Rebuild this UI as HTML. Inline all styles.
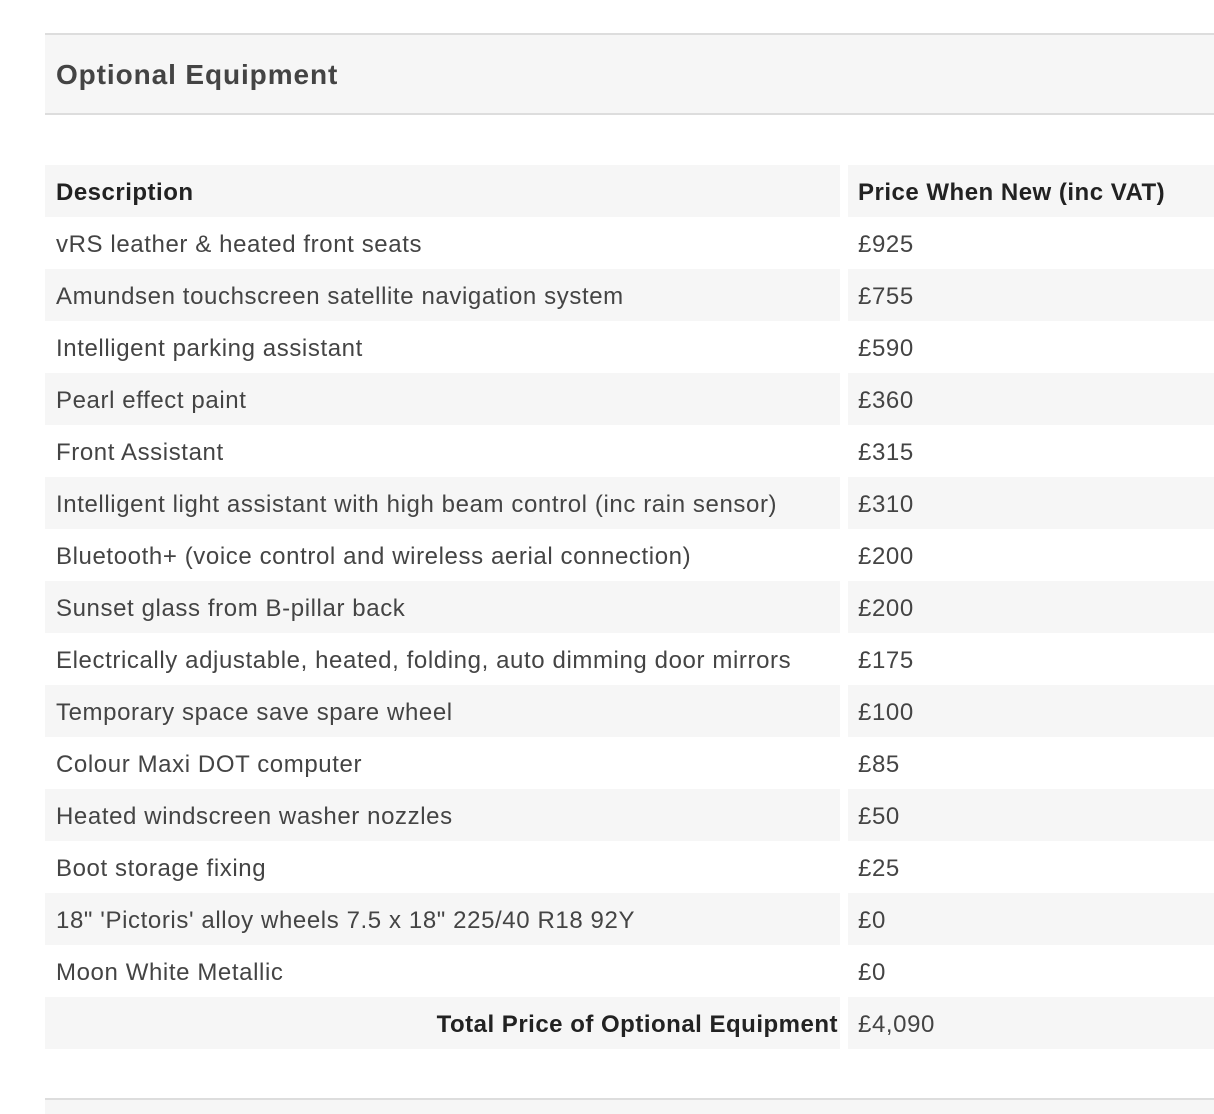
<!DOCTYPE html>
<html><head><meta charset="utf-8"><style>
body{margin:0;width:1214px;height:1112px;background:#fff;font-family:"Liberation Sans",sans-serif;position:relative;overflow:hidden}
.hd{position:absolute;left:45px;top:33px;width:1169px;height:78px;background:#f6f6f6;border-top:2px solid #ddd;border-bottom:2px solid #ddd}
.hd span{position:absolute;left:11px;top:24px;font-size:28px;letter-spacing:0.9px;font-weight:bold;color:#444}
.r{position:absolute;left:45px;width:1169px;height:52px}
.c1,.c2{position:absolute;top:0;height:52px;line-height:56px;font-size:24px;letter-spacing:0.6px;color:#444;white-space:nowrap}
.c1{left:0;width:795px;padding-left:11px;box-sizing:border-box}
.c2{left:803px;width:366px;padding-left:10px;box-sizing:border-box}
.g .c1,.g .c2{background:#f6f6f6}
.b{font-weight:bold;color:#222 !important;letter-spacing:0.5px}
.ft{position:absolute;left:45px;top:1098px;width:1169px;height:14px;background:#f6f6f6;border-top:2px solid #ddd}
</style></head><body>
<div class="hd"><span>Optional Equipment</span></div>
<div class="r g" style="top:165px"><div class="c1 b">Description</div><div class="c2 b">Price When New (inc VAT)</div></div>
<div class="r" style="top:217px"><div class="c1">vRS leather &amp; heated front seats</div><div class="c2">£925</div></div>
<div class="r g" style="top:269px"><div class="c1">Amundsen touchscreen satellite navigation system</div><div class="c2">£755</div></div>
<div class="r" style="top:321px"><div class="c1">Intelligent parking assistant</div><div class="c2">£590</div></div>
<div class="r g" style="top:373px"><div class="c1">Pearl effect paint</div><div class="c2">£360</div></div>
<div class="r" style="top:425px"><div class="c1">Front Assistant</div><div class="c2">£315</div></div>
<div class="r g" style="top:477px"><div class="c1">Intelligent light assistant with high beam control (inc rain sensor)</div><div class="c2">£310</div></div>
<div class="r" style="top:529px"><div class="c1">Bluetooth+ (voice control and wireless aerial connection)</div><div class="c2">£200</div></div>
<div class="r g" style="top:581px"><div class="c1">Sunset glass from B-pillar back</div><div class="c2">£200</div></div>
<div class="r" style="top:633px"><div class="c1">Electrically adjustable, heated, folding, auto dimming door mirrors</div><div class="c2">£175</div></div>
<div class="r g" style="top:685px"><div class="c1">Temporary space save spare wheel</div><div class="c2">£100</div></div>
<div class="r" style="top:737px"><div class="c1">Colour Maxi DOT computer</div><div class="c2">£85</div></div>
<div class="r g" style="top:789px"><div class="c1">Heated windscreen washer nozzles</div><div class="c2">£50</div></div>
<div class="r" style="top:841px"><div class="c1">Boot storage fixing</div><div class="c2">£25</div></div>
<div class="r g" style="top:893px"><div class="c1">18" 'Pictoris' alloy wheels 7.5 x 18" 225/40 R18 92Y</div><div class="c2">£0</div></div>
<div class="r" style="top:945px"><div class="c1">Moon White Metallic</div><div class="c2">£0</div></div>
<div class="r g" style="top:997px"><div class="c1 b" style="text-align:right;padding-right:2px">Total Price of Optional Equipment</div><div class="c2">£4,090</div></div>
<div class="ft"></div>
</body></html>
